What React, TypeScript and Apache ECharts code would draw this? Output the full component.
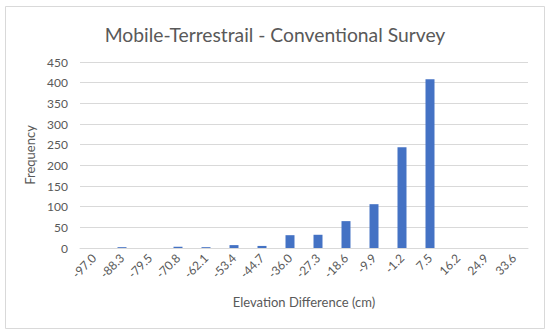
import React, { useEffect, useRef } from "react";
import * as echarts from "echarts";

const categories = ["-97.0", "-88.3", "-79.5", "-70.8", "-62.1", "-53.4", "-44.7", "-36.0", "-27.3", "-18.6", "-9.9", "-1.2", "7.5", "16.2", "24.9", "33.6"];
const frequencies = [0, 2, 0, 3, 2, 7, 5, 31, 32, 65, 106, 244, 408, 0, 0, 0];

const FONT = "Lato, 'Open Sans', sans-serif";
const TEXT = "#595959";

export default function App() {
  const ref = useRef<HTMLDivElement>(null);
  useEffect(() => {
    if (!ref.current) return;
    const chart = echarts.init(ref.current, undefined, { renderer: "svg" });
    chart.setOption({
      animation: false,
      backgroundColor: "#ffffff",
      title: {
        text: "Mobile-Terrestrail - Conventional Survey",
        left: "center",
        top: 20,
        textStyle: { fontFamily: FONT, fontSize: 19.3, fontWeight: "normal", color: TEXT },
      },
      graphic: [
        {
          type: "rect",
          shape: { x: 5.5, y: 6.5, width: 539, height: 322 },
          style: { fill: "none", stroke: "#d9d9d9", lineWidth: 1 },
          silent: true,
        },
      ],
      grid: { left: 80, right: 22, top: 62, bottom: 88, containLabel: false },
      xAxis: {
        type: "category",
        data: categories,
        boundaryGap: true,
        name: "Elevation Difference (cm)",
        nameLocation: "middle",
        nameGap: 47,
        nameTextStyle: { fontFamily: FONT, fontSize: 13, color: TEXT },
        axisLine: { show: true, lineStyle: { color: "#d9d9d9" } },
        axisTick: { show: false },
        axisLabel: { rotate: 45, fontFamily: FONT, fontSize: 12, color: TEXT, margin: 8, interval: 0 },
      },
      yAxis: {
        type: "value",
        min: 0,
        max: 450,
        interval: 50,
        name: "Frequency",
        nameLocation: "middle",
        nameGap: 40,
        nameTextStyle: { fontFamily: FONT, fontSize: 13, color: TEXT },
        axisLine: { show: false },
        axisTick: { show: false },
        axisLabel: { fontFamily: FONT, fontSize: 12, color: TEXT, margin: 12 },
        splitLine: { lineStyle: { color: "#d9d9d9", width: 1 } },
      },
      series: [
        {
          type: "bar",
          data: frequencies,
          barWidth: 9,
          itemStyle: { color: "#4472C4" },
        },
      ],
    });
    return () => chart.dispose();
  }, []);
  return <div ref={ref} style={{ width: 550, height: 336, position: "absolute", left: 0, top: 0 }} />;
}
